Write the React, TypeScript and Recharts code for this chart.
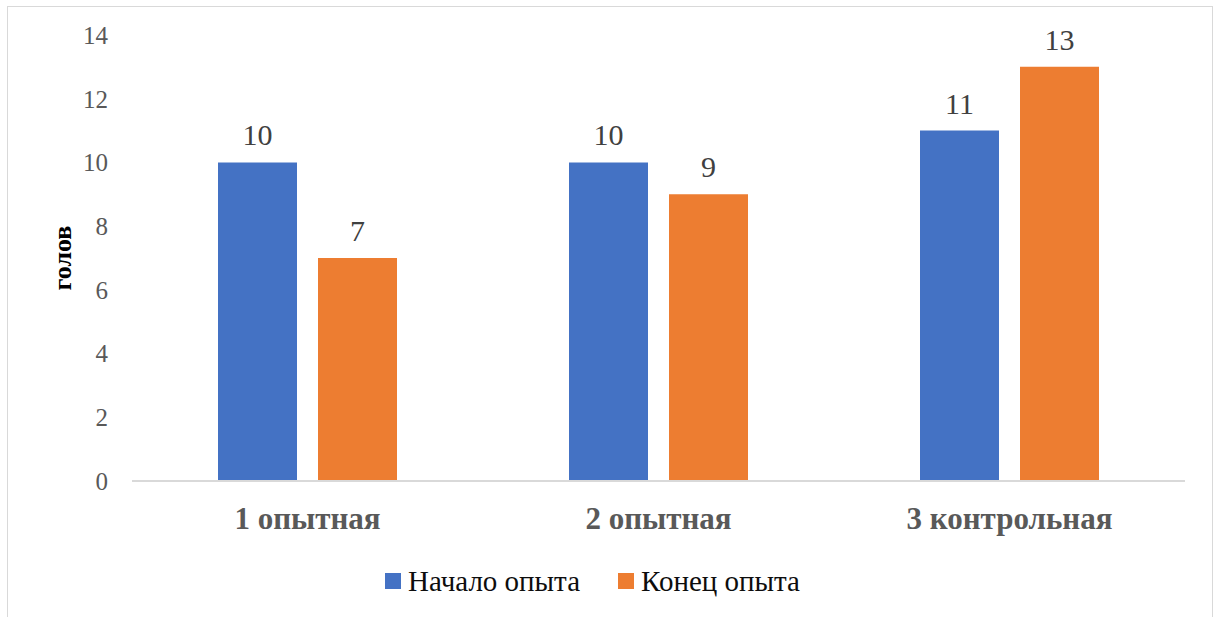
import { Bar, BarChart, LabelList, Legend, XAxis, YAxis } from "recharts";

const groups = ["1 опытная", "2 опытная", "3 контрольная"];
const startValues = [10, 10, 11];
const endValues = [7, 9, 13];
const yTicks = [0, 2, 4, 6, 8, 10, 12, 14];

const seriesNames = { start: "Начало опыта", end: "Конец опыта" };
const colors = { start: "#4472C4", end: "#ED7D31" };

const data = groups.map((group, i) => ({
  group,
  start: startValues[i],
  end: endValues[i],
}));

const serif = '"Liberation Serif", "DejaVu Serif", serif';

function ChartLegend() {
  const items = [
    { key: "start", label: seriesNames.start, color: colors.start },
    { key: "end", label: seriesNames.end, color: colors.end },
  ];
  return (
    <div style={{ display: "flex", justifyContent: "center", alignItems: "center", height: 40, gap: 38 }}>
      {items.map((item) => (
        <div key={item.key} style={{ display: "flex", alignItems: "center" }}>
          <span style={{ width: 16, height: 16, background: item.color, marginRight: 7, display: "inline-block" }} />
          <span style={{ fontFamily: serif, fontSize: 29, color: "#0d0d0d" }}>{item.label}</span>
        </div>
      ))}
    </div>
  );
}

function YTitle({ viewBox }: { viewBox?: { x: number; y: number; width: number; height: number } }) {
  if (!viewBox) return null;
  const cx = 62;
  const cy = viewBox.y + viewBox.height / 2;
  return (
    <text
      x={cx}
      y={cy}
      transform={`rotate(-90 ${cx} ${cy})`}
      textAnchor="middle"
      dominantBaseline="central"
      style={{ fontFamily: serif }}
      fontWeight="bold"
      fontSize={26}
      fill="#000"
    >
      голов
    </text>
  );
}

export default function App() {
  return (
    <div style={{ position: "absolute", left: 0, top: 0, width: 1214, height: 617, overflow: "hidden", background: "#fff", fontFamily: serif }}>
      <div
        style={{
          position: "absolute",
          left: 7,
          top: 6,
          width: 1206,
          height: 700,
          border: "1px solid #d9d9d9",
          boxSizing: "border-box",
        }}
      />
      <div style={{ position: "absolute", left: 0, top: 0 }}>
        <BarChart
          width={1214}
          height={617}
          data={data}
          margin={{ top: 35, right: 29, bottom: 16, left: 0 }}
          barSize={79}
          barGap={21}
          style={{ fontFamily: serif }}
        >
          <XAxis
            dataKey="group"
            axisLine={{ stroke: "#d9d9d9", strokeWidth: 2 }}
            tickLine={false}
            tickSize={0}
            tickMargin={26}
            height={80}
            tick={{ fill: "#595959", fontSize: 31, fontWeight: "bold", style: { fontFamily: serif } }}
          />
          <YAxis
            domain={[0, 14]}
            ticks={yTicks}
            interval={0}
            width={132}
            axisLine={false}
            tickLine={false}
            tickSize={0}
            tickMargin={24}
            tick={{ fill: "#595959", fontSize: 25, style: { fontFamily: serif } }}
            label={<YTitle />}
          />
          <Legend verticalAlign="bottom" content={<ChartLegend />} />
          <Bar dataKey="start" name={seriesNames.start} fill={colors.start} isAnimationActive={false}>
            <LabelList dataKey="start" position="top" offset={17} fill="#404040" fontSize={30} style={{ fontFamily: serif }} />
          </Bar>
          <Bar dataKey="end" name={seriesNames.end} fill={colors.end} isAnimationActive={false}>
            <LabelList dataKey="end" position="top" offset={17} fill="#404040" fontSize={30} style={{ fontFamily: serif }} />
          </Bar>
        </BarChart>
      </div>
    </div>
  );
}
